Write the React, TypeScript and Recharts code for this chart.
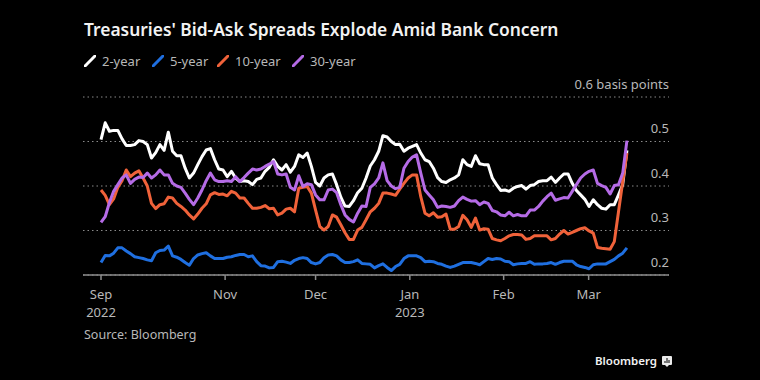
import React from "react";
import { LineChart, Line, XAxis, YAxis, CartesianGrid } from "recharts";

// trading-day samples, Sep 2022 to mid Mar 2023
const spread2y = [
  0.504, 0.542, 0.523, 0.525, 0.525, 0.506, 0.491, 0.491, 0.493, 0.502, 0.5, 0.493, 0.463, 0.475, 0.493, 0.48, 0.521, 0.478, 0.468, 0.468, 0.44, 0.418, 0.429, 0.448, 0.466, 0.481,
  0.484, 0.459, 0.438, 0.436, 0.421, 0.433, 0.418, 0.41, 0.412, 0.41, 0.403, 0.415, 0.418, 0.433, 0.442, 0.459, 0.444, 0.436, 0.448, 0.431, 0.444, 0.47, 0.464, 0.474, 0.444, 0.408,
  0.4, 0.418, 0.425, 0.427, 0.403, 0.375, 0.355, 0.354, 0.367, 0.385, 0.395, 0.418, 0.445, 0.459, 0.478, 0.513, 0.51, 0.5, 0.493, 0.494, 0.478, 0.485, 0.489, 0.493, 0.474, 0.459,
  0.455, 0.44, 0.419, 0.41, 0.408, 0.414, 0.418, 0.425, 0.459, 0.448, 0.444, 0.468, 0.45, 0.448, 0.448, 0.418, 0.403, 0.39, 0.391, 0.388, 0.395, 0.399, 0.401, 0.393, 0.401, 0.403,
  0.41, 0.412, 0.412, 0.42, 0.408, 0.418, 0.427, 0.427, 0.406, 0.39, 0.38, 0.37, 0.354, 0.369, 0.358, 0.35, 0.348, 0.358, 0.358, 0.38, 0.403, 0.48,
];
const spread5y = [
  0.228, 0.244, 0.243, 0.249, 0.261, 0.261, 0.254, 0.248, 0.241, 0.239, 0.237, 0.234, 0.232, 0.25, 0.255, 0.256, 0.265, 0.243, 0.24, 0.235, 0.228, 0.222, 0.237, 0.245, 0.248, 0.25,
  0.243, 0.237, 0.237, 0.237, 0.24, 0.241, 0.244, 0.246, 0.246, 0.241, 0.243, 0.23, 0.221, 0.22, 0.216, 0.217, 0.23, 0.231, 0.229, 0.226, 0.233, 0.237, 0.239, 0.237, 0.228, 0.225,
  0.228, 0.239, 0.245, 0.246, 0.243, 0.234, 0.228, 0.228, 0.23, 0.234, 0.226, 0.225, 0.224, 0.216, 0.221, 0.225, 0.217, 0.21, 0.219, 0.224, 0.237, 0.243, 0.243, 0.243, 0.239, 0.23,
  0.231, 0.23, 0.226, 0.224, 0.22, 0.217, 0.22, 0.224, 0.228, 0.228, 0.228, 0.226, 0.223, 0.23, 0.237, 0.235, 0.237, 0.236, 0.231, 0.23, 0.223, 0.225, 0.226, 0.226, 0.23, 0.224,
  0.225, 0.225, 0.226, 0.228, 0.224, 0.228, 0.231, 0.231, 0.231, 0.223, 0.219, 0.217, 0.214, 0.223, 0.225, 0.225, 0.225, 0.23, 0.235, 0.243, 0.249, 0.261,
];
const spread10y = [
  0.391, 0.379, 0.358, 0.371, 0.397, 0.412, 0.436, 0.421, 0.429, 0.434, 0.418, 0.4, 0.361, 0.349, 0.358, 0.36, 0.375, 0.373, 0.361, 0.354, 0.346, 0.335, 0.326, 0.337, 0.35, 0.36,
  0.38, 0.385, 0.381, 0.382, 0.378, 0.388, 0.384, 0.373, 0.373, 0.361, 0.35, 0.35, 0.352, 0.356, 0.349, 0.35, 0.335, 0.339, 0.348, 0.35, 0.342, 0.395, 0.397, 0.399, 0.384, 0.346,
  0.309, 0.301, 0.309, 0.335, 0.33, 0.313, 0.295, 0.28, 0.28, 0.301, 0.307, 0.324, 0.342, 0.35, 0.361, 0.384, 0.384, 0.382, 0.379, 0.393, 0.406, 0.418, 0.425, 0.425, 0.376, 0.339,
  0.333, 0.34, 0.33, 0.331, 0.337, 0.303, 0.303, 0.309, 0.334, 0.324, 0.307, 0.328, 0.301, 0.304, 0.303, 0.282, 0.279, 0.277, 0.282, 0.288, 0.291, 0.291, 0.29, 0.28, 0.282, 0.288,
  0.288, 0.288, 0.288, 0.279, 0.282, 0.292, 0.3, 0.292, 0.296, 0.3, 0.304, 0.306, 0.299, 0.294, 0.262, 0.26, 0.259, 0.258, 0.275, 0.342, 0.41, 0.474,
];
const spread30y = [
  0.318, 0.331, 0.363, 0.388, 0.403, 0.418, 0.425, 0.406, 0.415, 0.42, 0.419, 0.429, 0.418, 0.425, 0.436, 0.425, 0.425, 0.406, 0.4, 0.397, 0.384, 0.37, 0.358, 0.373, 0.391, 0.412,
  0.429, 0.414, 0.41, 0.41, 0.412, 0.41, 0.421, 0.41, 0.419, 0.429, 0.438, 0.436, 0.438, 0.444, 0.449, 0.455, 0.427, 0.425, 0.427, 0.397, 0.391, 0.423, 0.399, 0.405, 0.403, 0.38,
  0.369, 0.369, 0.391, 0.393, 0.385, 0.358, 0.335, 0.325, 0.319, 0.339, 0.355, 0.354, 0.397, 0.405, 0.418, 0.452, 0.412, 0.4, 0.394, 0.397, 0.44, 0.455, 0.465, 0.47, 0.429, 0.391,
  0.38, 0.369, 0.352, 0.355, 0.354, 0.352, 0.355, 0.367, 0.375, 0.37, 0.366, 0.367, 0.358, 0.364, 0.361, 0.345, 0.342, 0.335, 0.333, 0.341, 0.333, 0.336, 0.333, 0.333, 0.346, 0.346,
  0.354, 0.366, 0.376, 0.384, 0.368, 0.371, 0.374, 0.373, 0.388, 0.403, 0.418, 0.427, 0.433, 0.436, 0.406, 0.401, 0.397, 0.382, 0.401, 0.403, 0.429, 0.502,
];

const seriesKeys = ["y2", "y5", "y10", "y30"];
const seriesNames = ["2-year", "5-year", "10-year", "30-year"];
const seriesColors = ["#ffffff", "#1f6fe0", "#f0623a", "#b56be6"];

const yTicks = [0.2, 0.3, 0.4, 0.5, 0.6];
// the sampled days thin out before Nov, so months sit on fractional sample positions
const monthTicks = [0, 29.5, 51, 73.4, 95.7, 115.9];
const monthLabels = ["Sep", "Nov", "Dec", "Jan", "Feb", "Mar"];
const yearLabels: Record<string, string> = { Sep: "2022", Jan: "2023" };

const chartData = spread2y.map((v, i) => ({
  i,
  y2: v,
  y5: spread5y[i],
  y10: spread10y[i],
  y30: spread30y[i],
}));

const FONT = "'Noto Sans', sans-serif";
const GREY = "#b8b8b8";

const MonthTick = ({ x, y, payload }: any) => {
  const label = monthLabels[monthTicks.indexOf(payload.value)];
  return (
    <g>
      <text x={x} y={y + 17} textAnchor="middle" fontSize={13} fontFamily={FONT} fill={GREY}>
        {label}
      </text>
      {yearLabels[label] && (
        <text x={x} y={y + 34.5} textAnchor="middle" fontSize={13} fontFamily={FONT} fill={GREY}>
          {yearLabels[label]}
        </text>
      )}
    </g>
  );
};

const ValueTick = ({ x, y, payload }: any) => (
  <text x={x} y={y - 8.5} textAnchor="end" fontSize={13} fontFamily={FONT} fill={GREY}>
    {payload.value === 0.6 ? "0.6 basis points" : payload.value.toFixed(1)}
  </text>
);

const legendX = [84, 152, 217, 292];

const App = () => {
  return (
    <div style={{ position: "absolute", left: 0, top: 0, width: 760, height: 380, background: "#000", fontFamily: FONT, overflow: "hidden" }}>
      <div style={{ position: "absolute", left: 84, top: 17, fontSize: 17.4, fontWeight: 600, color: "#f2f2f2", whiteSpace: "nowrap" }}>
        Treasuries' Bid-Ask Spreads Explode Amid Bank Concern
      </div>
      {seriesNames.map((name, idx) => (
        <div key={name} style={{ position: "absolute", left: legendX[idx], top: 52, display: "flex", alignItems: "center", fontSize: 13, color: GREY, whiteSpace: "nowrap" }}>
          <svg width={12} height={12} style={{ marginRight: 6 }}>
            <line x1={1} y1={11} x2={11} y2={1} stroke={seriesColors[idx]} strokeWidth={3} strokeLinecap="round" />
          </svg>
          {name}
        </div>
      ))}
      <div style={{ position: "absolute", left: 0, top: 0 }}>
        <LineChart
          width={760}
          height={380}
          data={chartData}
          margin={{ top: 97, right: 60, left: 83, bottom: 65 }}
        >
          <CartesianGrid vertical={false} stroke="#8a8a8a" strokeDasharray="1.5 3" />
          <XAxis
            dataKey="i"
            type="number"
            domain={[-4.28, 135]}
            ticks={monthTicks}
            height={40}
            stroke="#8c8c8c"
            strokeWidth={1.5}
            tickSize={5}
            tick={<MonthTick />}
            interval={0}
            allowDecimals
          />
          <YAxis
            orientation="right"
            width={31}
            tickMargin={0}
            tickSize={0}
            domain={[0.2, 0.6]}
            ticks={yTicks}
            axisLine={false}
            tickLine={false}
            tick={<ValueTick />}
            interval={0}
          />
          {seriesKeys.map((key, idx) => (
            <Line
              key={key}
              dataKey={key}
              type="linear"
              stroke={seriesColors[idx]}
              strokeWidth={3}
              strokeLinejoin="round"
              dot={false}
              isAnimationActive={false}
            />
          ))}
        </LineChart>
      </div>
      <div style={{ position: "absolute", left: 84, top: 326, fontSize: 12.5, color: GREY, whiteSpace: "nowrap" }}>
        Source: Bloomberg
      </div>
      <div style={{ position: "absolute", left: 595, top: 353, fontSize: 11.5, fontWeight: 600, color: "#f2f2f2", whiteSpace: "nowrap" }}>
        Bloomberg
      </div>
      <svg width={10} height={11} style={{ position: "absolute", left: 662, top: 356 }}>
        <path d="M1 0 H9 Q10 0 10 1 V8 Q10 9 9 9 H7 L5 11 L3 9 H1 Q0 9 0 8 V1 Q0 0 1 0 Z" fill="#eaeaea" />
        <path d="M3 7 V5 M5 7 V2 M7 7 V4" stroke="#000" strokeWidth={1} />
      </svg>
    </div>
  );
};

export default App;
